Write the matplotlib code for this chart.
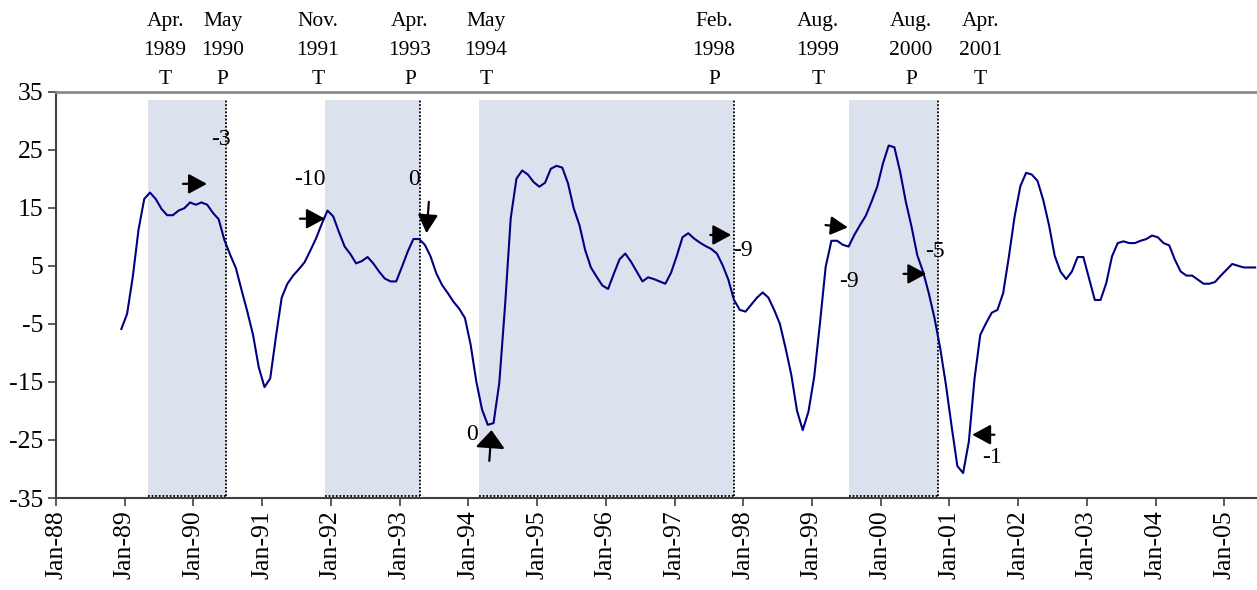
import numpy as np
import matplotlib
matplotlib.use("Agg")
from matplotlib import pyplot as plt

plt.rcParams['font.family'] = ['Liberation Serif', 'DejaVu Serif']
plt.rcParams['axes.unicode_minus'] = False

#######################################
# Data (monthly, Dec-88 .. Jun-05)
#######################################

start_year = 1988
start_month = 11.4      # months after Jan-88 of first point

values = [
    -5.9, -3.3, 3.1, 11.2, 16.5, 17.6, 16.5, 14.8, 13.7, 13.7,
    14.5, 14.9, 15.9, 15.5, 15.9, 15.5, 14.1, 13.0, 9.4, 6.9,
    4.6, 0.8, -2.9, -6.9, -12.5, -15.9, -14.4, -7.2, -0.5, 1.9,
    3.3, 4.4, 5.6, 7.6, 9.7, 12.2, 14.5, 13.5, 10.8, 8.3,
    7.0, 5.4, 5.8, 6.5, 5.4, 4.0, 2.8, 2.3, 2.3, 4.8,
    7.4, 9.6, 9.6, 8.6, 6.6, 3.7, 1.7, 0.3, -1.2, -2.4,
    -4.0, -8.6, -15.0, -19.8, -22.4, -22.1, -15.2, -2.0, 13.2, 20.0,
    21.4, 20.7, 19.4, 18.6, 19.3, 21.7, 22.2, 21.9, 19.2, 14.9,
    12.0, 7.7, 4.7, 3.1, 1.6, 1.0, 3.6, 6.1, 7.1, 5.7,
    4.0, 2.3, 3.0, 2.7, 2.3, 1.9, 3.8, 6.7, 9.9, 10.6,
    9.7, 9.0, 8.4, 7.9, 7.1, 5.1, 2.6, -0.9, -2.6, -2.9,
    -1.7, -0.5, 0.4, -0.5, -2.6, -5.0, -9.2, -13.8, -20.0, -23.3,
    -20.1, -14.1, -4.9, 4.8, 9.3, 9.3, 8.6, 8.3, 10.3, 12.0,
    13.6, 16.0, 18.6, 22.6, 25.7, 25.4, 21.2, 16.0, 11.7, 6.8,
    4.0, 0.3, -4.0, -9.2, -15.5, -22.7, -29.5, -30.7, -25.3, -14.4,
    -6.9, -4.9, -3.1, -2.6, 0.3, 6.6, 13.5, 18.7, 21.0, 20.7,
    19.6, 16.3, 12.0, 6.7, 4.0, 2.7, 4.0, 6.5, 6.5, 2.8,
    -0.9, -0.9, 2.0, 6.6, 8.9, 9.2, 8.9, 8.9, 9.3, 9.6,
    10.2, 9.9, 8.9, 8.5, 6.0, 4.0, 3.3, 3.3, 2.6, 1.9,
    1.9, 2.2, 3.3, 4.3, 5.3, 5.0, 4.7, 4.7, 4.7,
]

# shaded phases (fractional years)
shade_start = [1989.34, 1991.91, 1994.15, 1999.535]
shade_end = [1990.473, 1993.30, 1997.869, 2000.83]

# turning point labels above the chart
tp_x = [1989.586, 1990.425, 1991.808, 1993.15, 1994.257, 1997.575, 1999.089, 2000.443, 2001.447]
tp_month = ["Apr.", "May", "Nov.", "Apr.", "May", "Feb.", "Aug.", "Aug.", "Apr."]
tp_year = ["1989", "1990", "1991", "1993", "1994", "1998", "1999", "2000", "2001"]
tp_kind = ["T", "P", "T", "P", "T", "P", "T", "P", "T"]

# lead/lag numbers and arrows
note_text = ["-3", "-10", "0", "0", "-9", "-9", "-5", "-1"]
note_x = [1990.40, 1991.694, 1993.206, 1994.046, 1997.991, 1999.537, 2000.783, 2001.617]
note_y = [26.8, 19.8, 19.8, -24.0, 7.7, 2.3, 7.4, -28.1]

arrow_from = [(1989.847, 19.1), (1991.549, 13.1), (1993.425, 16.0), (1994.305, -28.6),
              (1997.521, 10.3), (1999.198, 12.0), (2000.333, 3.6), (2001.656, -24.1)]
arrow_to = [(1990.196, 19.1), (1991.912, 13.1), (1993.391, 10.6), (1994.337, -23.3),
            (1997.826, 10.3), (1999.523, 11.6), (2000.664, 3.6), (2001.332, -24.1)]

################################
# Plot
################################

years = list(range(1988, 2006))
year_labels = ["Jan-%02d" % (y % 100) for y in years]
yticks = [-35, -25, -15, -5, 5, 15, 25, 35]

t = start_year + (start_month + np.arange(len(values))) / 12.0

fig = plt.figure(figsize=(12.57, 5.90), dpi=100)
ax = fig.add_axes([0.0446, 0.1559, 0.9554, 0.689])

shade_top = 33.5
shade_bot = -34.6
for s, e in zip(shade_start, shade_end):
    ax.fill_between([s, e], shade_bot, shade_top, color='#dbe2ee', lw=0, zorder=1)
    ax.plot([e, e], [shade_bot, shade_top], ls=(0, (1, 1)), color='black', lw=1.3, zorder=2)
    ax.plot([s, e], [shade_bot, shade_bot], ls=(0, (1, 1)), color='black', lw=1.3, zorder=2)

ax.plot(t, values, color='#000080', lw=1.5, zorder=3)

for x, m, yr, k in zip(tp_x, tp_month, tp_year, tp_kind):
    ax.text(x, 47.0, m, ha='center', va='center', fontsize=15.5, clip_on=False)
    ax.text(x, 42.0, yr, ha='center', va='center', fontsize=15.5, clip_on=False)
    ax.text(x, 37.0, k, ha='center', va='center', fontsize=15.5, clip_on=False)

for s, x, y in zip(note_text, note_x, note_y):
    ax.text(x, y, s, ha='center', va='center', fontsize=17, zorder=4)

for i, (a, b) in enumerate(zip(arrow_from, arrow_to)):
    if i == 3:
        # the big up arrow under the May-94 trough: short, wide head
        style = '-|>,head_length=0.55,head_width=0.45'
        ms = 20
    else:
        style = '-|>,head_length=0.7,head_width=0.38'
        ms = 15 if i == 5 else 16
    ax.annotate("", xy=b, xytext=a,
                arrowprops=dict(arrowstyle=style, mutation_scale=ms,
                                color='black', lw=1.6, shrinkA=0, shrinkB=0),
                zorder=5)

ax.set_xlim(1988, 2005.477)
ax.set_ylim(-35, 35)
ax.set_xticks(years)
ax.set_xticklabels(year_labels, rotation=90, fontsize=18.5)
ax.set_yticks(yticks)
ax.set_yticklabels([str(v) for v in yticks], fontsize=18.5)
ax.tick_params(direction='out', length=6, width=1.2, color='#404040', pad=3)

for side in ['left', 'bottom']:
    ax.spines[side].set_color('#404040')
    ax.spines[side].set_linewidth(1.5)
ax.spines['top'].set_color('#8a8a8a')
ax.spines['top'].set_linewidth(2)
ax.spines['right'].set_visible(False)

plt.savefig("out.png", dpi=100)
